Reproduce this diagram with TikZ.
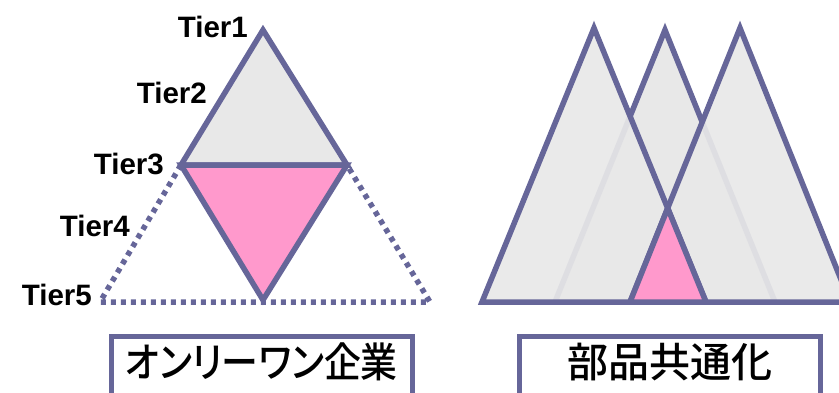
\documentclass[tikz,border=0pt]{standalone}
\usepackage{fontspec}
\setmainfont{Liberation Sans}
\newfontfamily\jpfont[RawFeature=+palt]{Noto Sans CJK JP Medium}
\newfontfamily\jpnarrow[RawFeature=+palt, FakeStretch=0.9]{Noto Sans CJK JP Medium}
\definecolor{edgeblue}{HTML}{666699}
\definecolor{tiergray}{HTML}{E8E8E8}
\definecolor{tierpink}{HTML}{FF99CC}

\begin{document}
\begin{tikzpicture}[x=1pt, y=-1pt,
    tri/.style={draw=edgeblue, line width=5.5pt},
    dotline/.style={draw=edgeblue, line width=5.5pt, dash pattern=on 5pt off 5pt},
    tier/.style={font=\bfseries\fontsize{29.5}{29.5}\selectfont, anchor=base east, inner sep=0pt},
    titlebox/.style={draw=edgeblue, line width=5pt, minimum width=301pt, minimum height=62pt,
        text depth=13pt, anchor=north, inner sep=0pt}]
    \useasboundingbox (0,0) rectangle (839,392);
    \clip (0,0) rectangle (839,392);

    % Left pyramid
    \coordinate (top) at (263,30);
    \coordinate (midL) at (181,165);
    \coordinate (midR) at (347,165);
    \coordinate (low) at (263,300);
    \coordinate (baseL) at (100,302);
    \coordinate (baseR) at (430,302);
    \draw[dotline] (midL) -- (baseL) -- (baseR) -- (midR);
    \draw[tri, fill=tiergray] (top) -- (midL) -- (midR) -- cycle;
    \draw[tri, fill=tierpink] (midL) -- (midR) -- (low) -- cycle;

    % Tier labels
    \node[tier] (tier1) at (248,37) {Tier1};
    \node[tier] (tier2) at (207,103) {Tier2};
    \node[tier] (tier3) at (164,174) {Tier3};
    \node[tier] (tier4) at (130,236) {Tier4};
    \node[tier] (tier5) at (92,305) {Tier5};

    % Right pyramids
    \coordinate (a1) at (594,28);
    \coordinate (a2) at (482,302);
    \coordinate (a3) at (706,302);
    \coordinate (b1) at (665,30);
    \coordinate (b2) at (555,302);
    \coordinate (b3) at (775,302);
    \coordinate (c1) at (740,28);
    \coordinate (c2) at (630,302);
    \coordinate (c3) at (850,302);
    \draw[tri, fill=tiergray] (b1) -- (b2) -- (b3) -- cycle;
    \fill[tiergray, fill opacity=0.93] (a1) -- (a2) -- (a3) -- cycle;
    \fill[tiergray, fill opacity=0.93] (c1) -- (c2) -- (c3) -- cycle;
    \draw[tri] (a1) -- (a2) -- (a3) -- cycle;
    \draw[tri] (c1) -- (c2) -- (c3) -- cycle;
    \coordinate (shared) at (intersection of a1--a3 and c1--c2);
    \draw[tri, fill=tierpink] (shared) -- (c2) -- (a3) -- cycle;

    % Captions
    \node[titlebox, font=\jpnarrow\fontsize{41}{41}\selectfont] (only) at (261.5,333.5) {オンリーワン企業};
    \node[titlebox, font=\jpfont\fontsize{41}{41}\selectfont] (common) at (670,333.5) {部品共通化};
\end{tikzpicture}
\end{document}
